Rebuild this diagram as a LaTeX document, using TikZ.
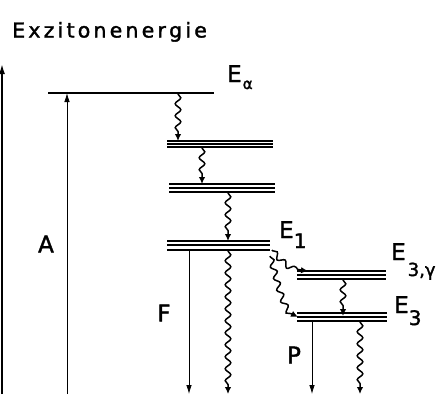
\documentclass[tikz,border=0pt]{standalone}
\usepackage{fontspec}
\setmainfont[FakeBold=1.6,AutoFakeBold=1.6]{DejaVu Sans}
\usetikzlibrary{arrows.meta,decorations.pathmorphing}
\newcommand{\lsp}{\kern3.2pt}
\begin{document}
\begin{tikzpicture}[x=1pt,y=-1pt,
  level/.style={line width=1.2pt},
  wav/.style={line width=1.5pt, decorate,
    decoration={snake, segment length=12pt, amplitude=2.8pt, pre length=1pt, post length=5pt},
    -{Latex[length=7pt,width=6.5pt]}},
  sarr/.style={line width=0.8pt, -{Latex[length=9pt,width=5.5pt]}},
  lab/.style={inner sep=0pt, font=\fontsize{23}{23}\selectfont\bfseries}]
\useasboundingbox (0,0) rectangle (441,394);
% title
\node[inner sep=0pt, anchor=base west, font=\fontsize{20.5}{20.5}\selectfont\bfseries] (title) at (12,37.5) {E\lsp x\lsp z\lsp i\lsp t\lsp o\lsp n\lsp e\lsp n\lsp e\lsp r\lsp g\lsp i\lsp e};
% axis
\coordinate (ax0) at (2,394);
\coordinate (ax1) at (2,64);
\draw[line width=1.6pt, -{Latex[length=10pt,width=6pt]}] (ax0) -- (ax1);
% E alpha
\coordinate (ea0) at (48,93);
\coordinate (ea1) at (214,93);
\draw[level] (ea0) -- (ea1);
% levels
\foreach \y in {141,144,147} \draw[level] (167,\y) -- (273,\y);
\foreach \y in {184,188,192} \draw[level] (169,\y) -- (275,\y);
\foreach \y in {241,245,250} \draw[level] (167,\y) -- (270,\y);
\foreach \y in {271,275,279} \draw[level] (297,\y) -- (386,\y);
\foreach \y in {313,317,321} \draw[level] (297,\y) -- (387,\y);
% coordinates of connectors
\coordinate (a0) at (67,394);  \coordinate (a1) at (67,93);
\coordinate (w1a) at (178,93);  \coordinate (w1b) at (178,141);
\coordinate (w2a) at (202,147); \coordinate (w2b) at (202,184);
\coordinate (w3a) at (228,192); \coordinate (w3b) at (228,241);
\coordinate (fa) at (189,250);  \coordinate (fb) at (189,394);
\coordinate (w4a) at (228,250); \coordinate (w4b) at (228,394);
\coordinate (c1a) at (272,250); \coordinate (c1b) at (308,271);
\coordinate (c2a) at (270,256); \coordinate (c2b) at (298,317);
\coordinate (w5a) at (343,279); \coordinate (w5b) at (343,316);
\coordinate (pa) at (312,321);  \coordinate (pb) at (312,394);
\coordinate (w6a) at (360,321); \coordinate (w6b) at (360,394);
% arrows
\draw[sarr] (a0) -- (a1);
\draw[wav] (w1a) -- (w1b);
\draw[wav] (w2a) -- (w2b);
\draw[wav] (w3a) -- (w3b);
\draw[sarr] (fa) -- (fb);
\draw[wav] (w4a) -- (w4b);
\draw[wav] (c1a) .. controls (282,262) and (292,270) .. (c1b);
\draw[wav] (c2a) .. controls (278,282) and (282,312) .. (c2b);
\draw[wav] (w5a) -- (w5b);
\draw[sarr] (pa) -- (pb);
\draw[wav] (w6a) -- (w6b);
% labels
\node[lab, anchor=base west] (lEa) at (227,82) {E\kern1pt\raisebox{-7pt}{\fontsize{15}{15}\selectfont α}};
\node[lab, anchor=base west] (lE1) at (279,238) {E\raisebox{-10pt}{\fontsize{20}{20}\selectfont 1}};
\node[lab, anchor=base west] (lE3g) at (391,260) {E\kern2pt\raisebox{-16pt}{\fontsize{18}{18}\selectfont 3,γ}};
\node[lab, anchor=base west] (lE3) at (394,313) {E\raisebox{-12pt}{\fontsize{20}{20}\selectfont 3}};
\node[lab] (lA) at (46,244) {A};
\node[lab] (lF) at (164,313) {F};
\node[lab] (lP) at (294,355) {P};
\end{tikzpicture}
\end{document}
